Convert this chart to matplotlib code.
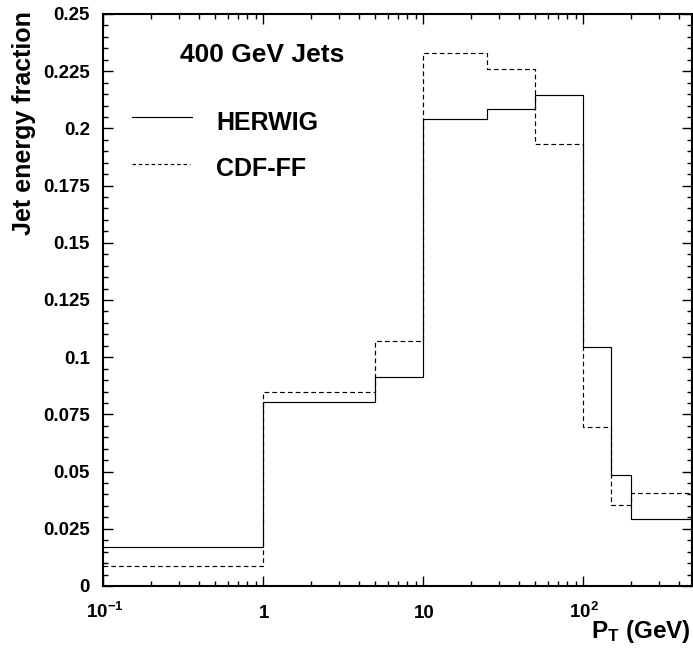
import matplotlib
matplotlib.use("Agg")
import matplotlib.pyplot as plt
from matplotlib.ticker import FixedLocator, LogLocator, NullFormatter, MultipleLocator, FuncFormatter

plt.rcParams['font.family'] = ['Liberation Sans', 'DejaVu Sans']
plt.rcParams['mathtext.fontset'] = 'custom'
plt.rcParams['mathtext.rm'] = 'Liberation Sans:bold'
plt.rcParams['mathtext.bf'] = 'Liberation Sans:bold'
plt.rcParams['mathtext.it'] = 'Liberation Sans:bold'

# Data
pt_edges = [0.1, 1, 5, 10, 25, 50, 100, 150, 200, 500]
herwig = [0.0172, 0.0806, 0.0915, 0.2040, 0.2083, 0.2145, 0.1043, 0.0484, 0.0291]
cdfff = [0.0087, 0.0847, 0.1072, 0.2331, 0.2258, 0.1933, 0.0696, 0.0354, 0.0406]
x_tick_vals = [0.1, 1, 10, 100]
x_tick_labels = [r'$10^{-1}$', '1', '10', r'$10^{2}$']
y_tick_vals = [0, 0.025, 0.05, 0.075, 0.1, 0.125, 0.15, 0.175, 0.2, 0.225, 0.25]

W, H = 693, 648
fig = plt.figure(figsize=(W / 100, H / 100), dpi=100)
ax = fig.add_axes([103 / W, (H - 586) / H, (692 - 103) / W, (586 - 14) / H])

ax.stairs(herwig, pt_edges, baseline=None, color='black', lw=0.85, linestyle='-')
ax.stairs(cdfff, pt_edges, baseline=None, color='black', lw=0.85, linestyle=(0, (4, 2.6)))

ax.set_xscale('log')
ax.set_xlim(0.1, 480)
ax.set_ylim(0, 0.25)

ax.xaxis.set_major_locator(FixedLocator(x_tick_vals))
ax.xaxis.set_major_formatter(NullFormatter())
ax.xaxis.set_minor_locator(LogLocator(base=10, subs=[2, 3, 4, 5, 6, 7, 8, 9], numticks=20))
ax.xaxis.set_minor_formatter(NullFormatter())
ax.yaxis.set_major_locator(FixedLocator(y_tick_vals))
ax.yaxis.set_major_formatter(FuncFormatter(lambda v, p: '%g' % round(v, 3)))
ax.yaxis.set_minor_locator(MultipleLocator(0.005))

ax.tick_params(which='both', direction='in', top=True, right=True, width=1.0,
               labelsize=13.5)
ax.tick_params(which='major', length=7.2)
ax.tick_params(which='minor', length=3.6)
ax.tick_params(axis='y', which='major', pad=9.4)
for lab in ax.get_yticklabels():
    lab.set_fontweight('bold')
for s in ax.spines.values():
    s.set_linewidth(1.5)

# x tick labels aligned on a common baseline
xform = ax.get_xaxis_transform()
base_y = -(618 - 586) / (586 - 14)
for v, lab in zip(x_tick_vals, x_tick_labels):
    ax.text(v * 1.02, base_y, lab, transform=xform, ha='center', va='baseline',
            fontsize=13.5, fontweight='bold', clip_on=False)

fig.text(24 / W, 1 - 11 / H, 'Jet energy fraction', rotation=90, ha='center', va='top',
         fontsize=18, fontweight='bold')
fig.text(691 / W, 1 - 638 / H, r'$\mathbf{P_T}$ (GeV)', ha='right', va='baseline',
         fontsize=17.5, fontweight='bold')

ax.text(180 / W, 1 - 61.7 / H, '400 GeV Jets', transform=fig.transFigure, ha='left', va='baseline',
        fontsize=19, fontweight='bold')
ax.plot([132 / W, 192 / W], [1 - 117.3 / H] * 2, transform=fig.transFigure, color='black', lw=0.85,
        clip_on=False)
ax.plot([132 / W, 190 / W], [1 - 164 / H] * 2, transform=fig.transFigure, color='black', lw=0.85,
        linestyle=(0, (3, 2.4)), clip_on=False)
ax.text(216 / W, 1 - 130 / H, 'HERWIG', transform=fig.transFigure, ha='left', va='baseline',
        fontsize=18, fontweight='bold')
ax.text(216 / W, 1 - 176 / H, 'CDF-FF', transform=fig.transFigure, ha='left', va='baseline',
        fontsize=18, fontweight='bold')

fig.savefig('out.png', dpi=100)
